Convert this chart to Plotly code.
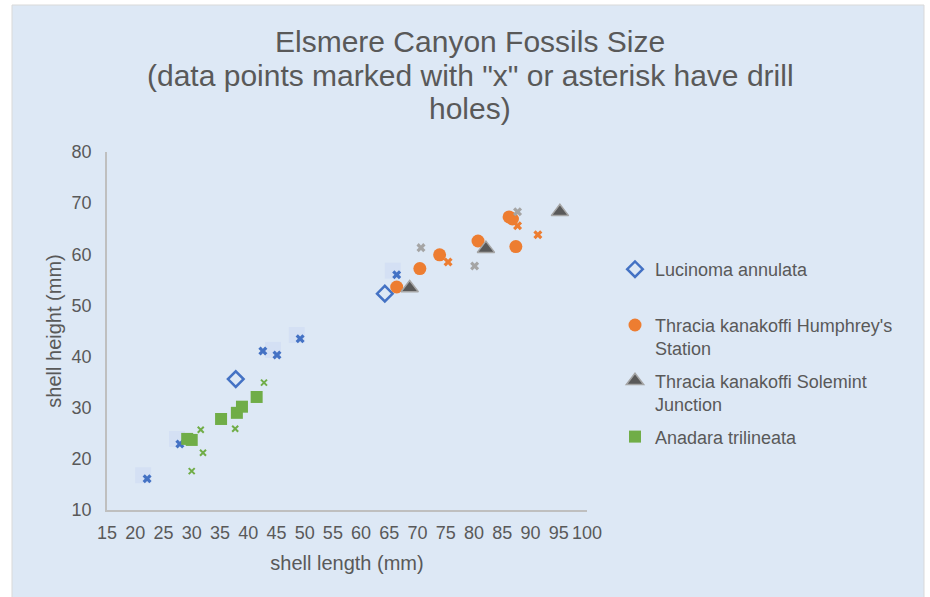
import plotly.graph_objects as go

# Lucinoma annulata
luc_len = [37.8, 64.2]
luc_hgt = [35.6, 52.3]
# Lucinoma annulata specimens with drill holes
luc_drill_len = [22.1, 27.9, 42.6, 45.1, 49.2, 66.3]
luc_drill_hgt = [16.1, 22.9, 41.1, 40.3, 43.5, 56.0]
# pale square markers behind the drilled Lucinoma points
pale_len = [21.4, 27.4, 44.4, 48.6, 65.6]
pale_hgt = [16.8, 23.9, 41.3, 44.2, 56.8]

# Thracia kanakoffi, Humphrey's Station
hum_len = [66.3, 70.4, 73.9, 80.7, 86.2, 86.8, 87.4]
hum_hgt = [53.6, 57.2, 59.9, 62.6, 67.3, 66.9, 61.5]
hum_drill_len = [75.4, 87.7, 91.3]
hum_drill_hgt = [58.5, 65.6, 63.8]

# Thracia kanakoffi, Solemint Junction
sol_len = [68.6, 82.1, 95.2]
sol_hgt = [53.4, 61.1, 68.3]
sol_drill_len = [70.6, 80.1, 87.7]
sol_drill_hgt = [61.3, 57.7, 68.3]

# Anadara trilineata
ana_len = [29.2, 30.0, 35.2, 38.0, 38.9, 41.5]
ana_hgt = [23.9, 23.7, 27.8, 29.0, 30.2, 32.1]
ana_drill_len = [42.8, 31.6, 37.7, 32.0, 30.0]
ana_drill_hgt = [34.9, 25.7, 25.9, 21.2, 17.6]

x_ticks = list(range(15, 101, 5))
y_ticks = list(range(10, 81, 10))

BLUE = "#4472c4"
ORANGE = "#ed7d31"
GRAY = "#a5a5a5"
DARK = "#595959"
GREEN = "#70ad47"
BG = "#dde8f5"
TXT = "#595959"
FONT = "Liberation Sans, Arial, sans-serif"

fig = go.Figure()

fig.add_trace(go.Scatter(
    x=pale_len, y=pale_hgt, mode="markers", showlegend=False, hoverinfo="skip",
    marker=dict(symbol="square", size=16, color="#d4e0f4", line=dict(width=0))))

fig.add_trace(go.Scatter(
    x=luc_len, y=luc_hgt, mode="markers", name="Lucinoma annulata<br> ",
    legendgroup="luc",
    marker=dict(symbol="diamond-open", size=12, color=BLUE, line=dict(width=2.5, color=BLUE))))
fig.add_trace(go.Scatter(
    x=luc_drill_len, y=luc_drill_hgt, mode="markers", showlegend=False, legendgroup="luc",
    marker=dict(symbol="x", size=8, color=BLUE, line=dict(width=0))))

fig.add_trace(go.Scatter(
    x=hum_len, y=hum_hgt, mode="markers", name="Thracia kanakoffi Humphrey's<br>Station",
    legendgroup="hum",
    marker=dict(symbol="circle", size=13, color=ORANGE, line=dict(width=0))))
fig.add_trace(go.Scatter(
    x=hum_drill_len, y=hum_drill_hgt, mode="markers", showlegend=False, legendgroup="hum",
    marker=dict(symbol="x", size=8, color=ORANGE, line=dict(width=0))))

fig.add_trace(go.Scatter(
    x=sol_len, y=sol_hgt, mode="markers", name="Thracia kanakoffi Solemint<br>Junction",
    legendgroup="sol",
    marker=dict(symbol="triangle-up", size=15, color=DARK, line=dict(width=1.5, color=GRAY))))
fig.add_trace(go.Scatter(
    x=sol_drill_len, y=sol_drill_hgt, mode="markers", showlegend=False, legendgroup="sol",
    marker=dict(symbol="x", size=8, color=GRAY, line=dict(width=0))))

fig.add_trace(go.Scatter(
    x=ana_len, y=ana_hgt, mode="markers", name="Anadara trilineata",
    legendgroup="ana",
    marker=dict(symbol="square", size=12, color=GREEN, line=dict(width=0))))
fig.add_trace(go.Scatter(
    x=ana_drill_len, y=ana_drill_hgt, mode="markers", showlegend=False, legendgroup="ana",
    marker=dict(symbol="x-thin-open", size=6, color=GREEN, line=dict(width=2, color=GREEN))))

# plot area spans x 107..587 px and y 152..510 px
L, R, T, B = 107, 343, 152, 87
W, H = 930, 597
pw, ph = W - L - R, H - T - B


def px(xp):
    return (xp - L) / pw


def py(yp):
    return (H - B - yp) / ph


# chart frame: light blue panel with a thin grey border on white
fig.add_shape(type="rect", xref="paper", yref="paper",
              x0=px(12), x1=px(924), y0=py(605), y1=py(5),
              fillcolor=BG, line=dict(color="#d9d9d9", width=1), layer="below")

title_lines = ["Elsmere Canyon Fossils Size",
               "(data points marked with \"x\" or asterisk have drill",
               "holes)"]
for i, line in enumerate(title_lines):
    fig.add_annotation(text=line, xref="paper", yref="paper",
                       x=px(470), y=py(42 + 33 * i), xanchor="center", yanchor="middle",
                       showarrow=False, font=dict(family=FONT, size=30, color=TXT))

fig.update_layout(
    width=W, height=H,
    margin=dict(l=L, r=R, t=T, b=B),
    paper_bgcolor="white",
    plot_bgcolor="rgba(0,0,0,0)",
    font=dict(family=FONT, color=TXT),
    legend=dict(x=px(615), y=py(251), xanchor="left", yanchor="top",
                bgcolor="rgba(0,0,0,0)", font=dict(family=FONT, size=18, color=TXT),
                valign="top", traceorder="grouped", tracegroupgap=6),
    xaxis=dict(range=[15, 100], tickvals=x_ticks, showgrid=False, zeroline=False,
               showline=True, linecolor="#bfbfbf", linewidth=1.5,
               ticks="outside", ticklen=6, tickcolor="rgba(0,0,0,0)",
               tickfont=dict(size=18, color=TXT),
               title=dict(text="shell length (mm)", font=dict(size=20, color=TXT), standoff=14)),
    yaxis=dict(range=[10, 80], tickvals=y_ticks, showgrid=False, zeroline=False,
               showline=True, linecolor="#bfbfbf", linewidth=1.5,
               ticks="outside", ticklen=10, tickcolor="rgba(0,0,0,0)",
               tickfont=dict(size=18, color=TXT),
               title=dict(text="shell height (mm)", font=dict(size=20, color=TXT), standoff=5)),
)

fig.write_html("out.html")
